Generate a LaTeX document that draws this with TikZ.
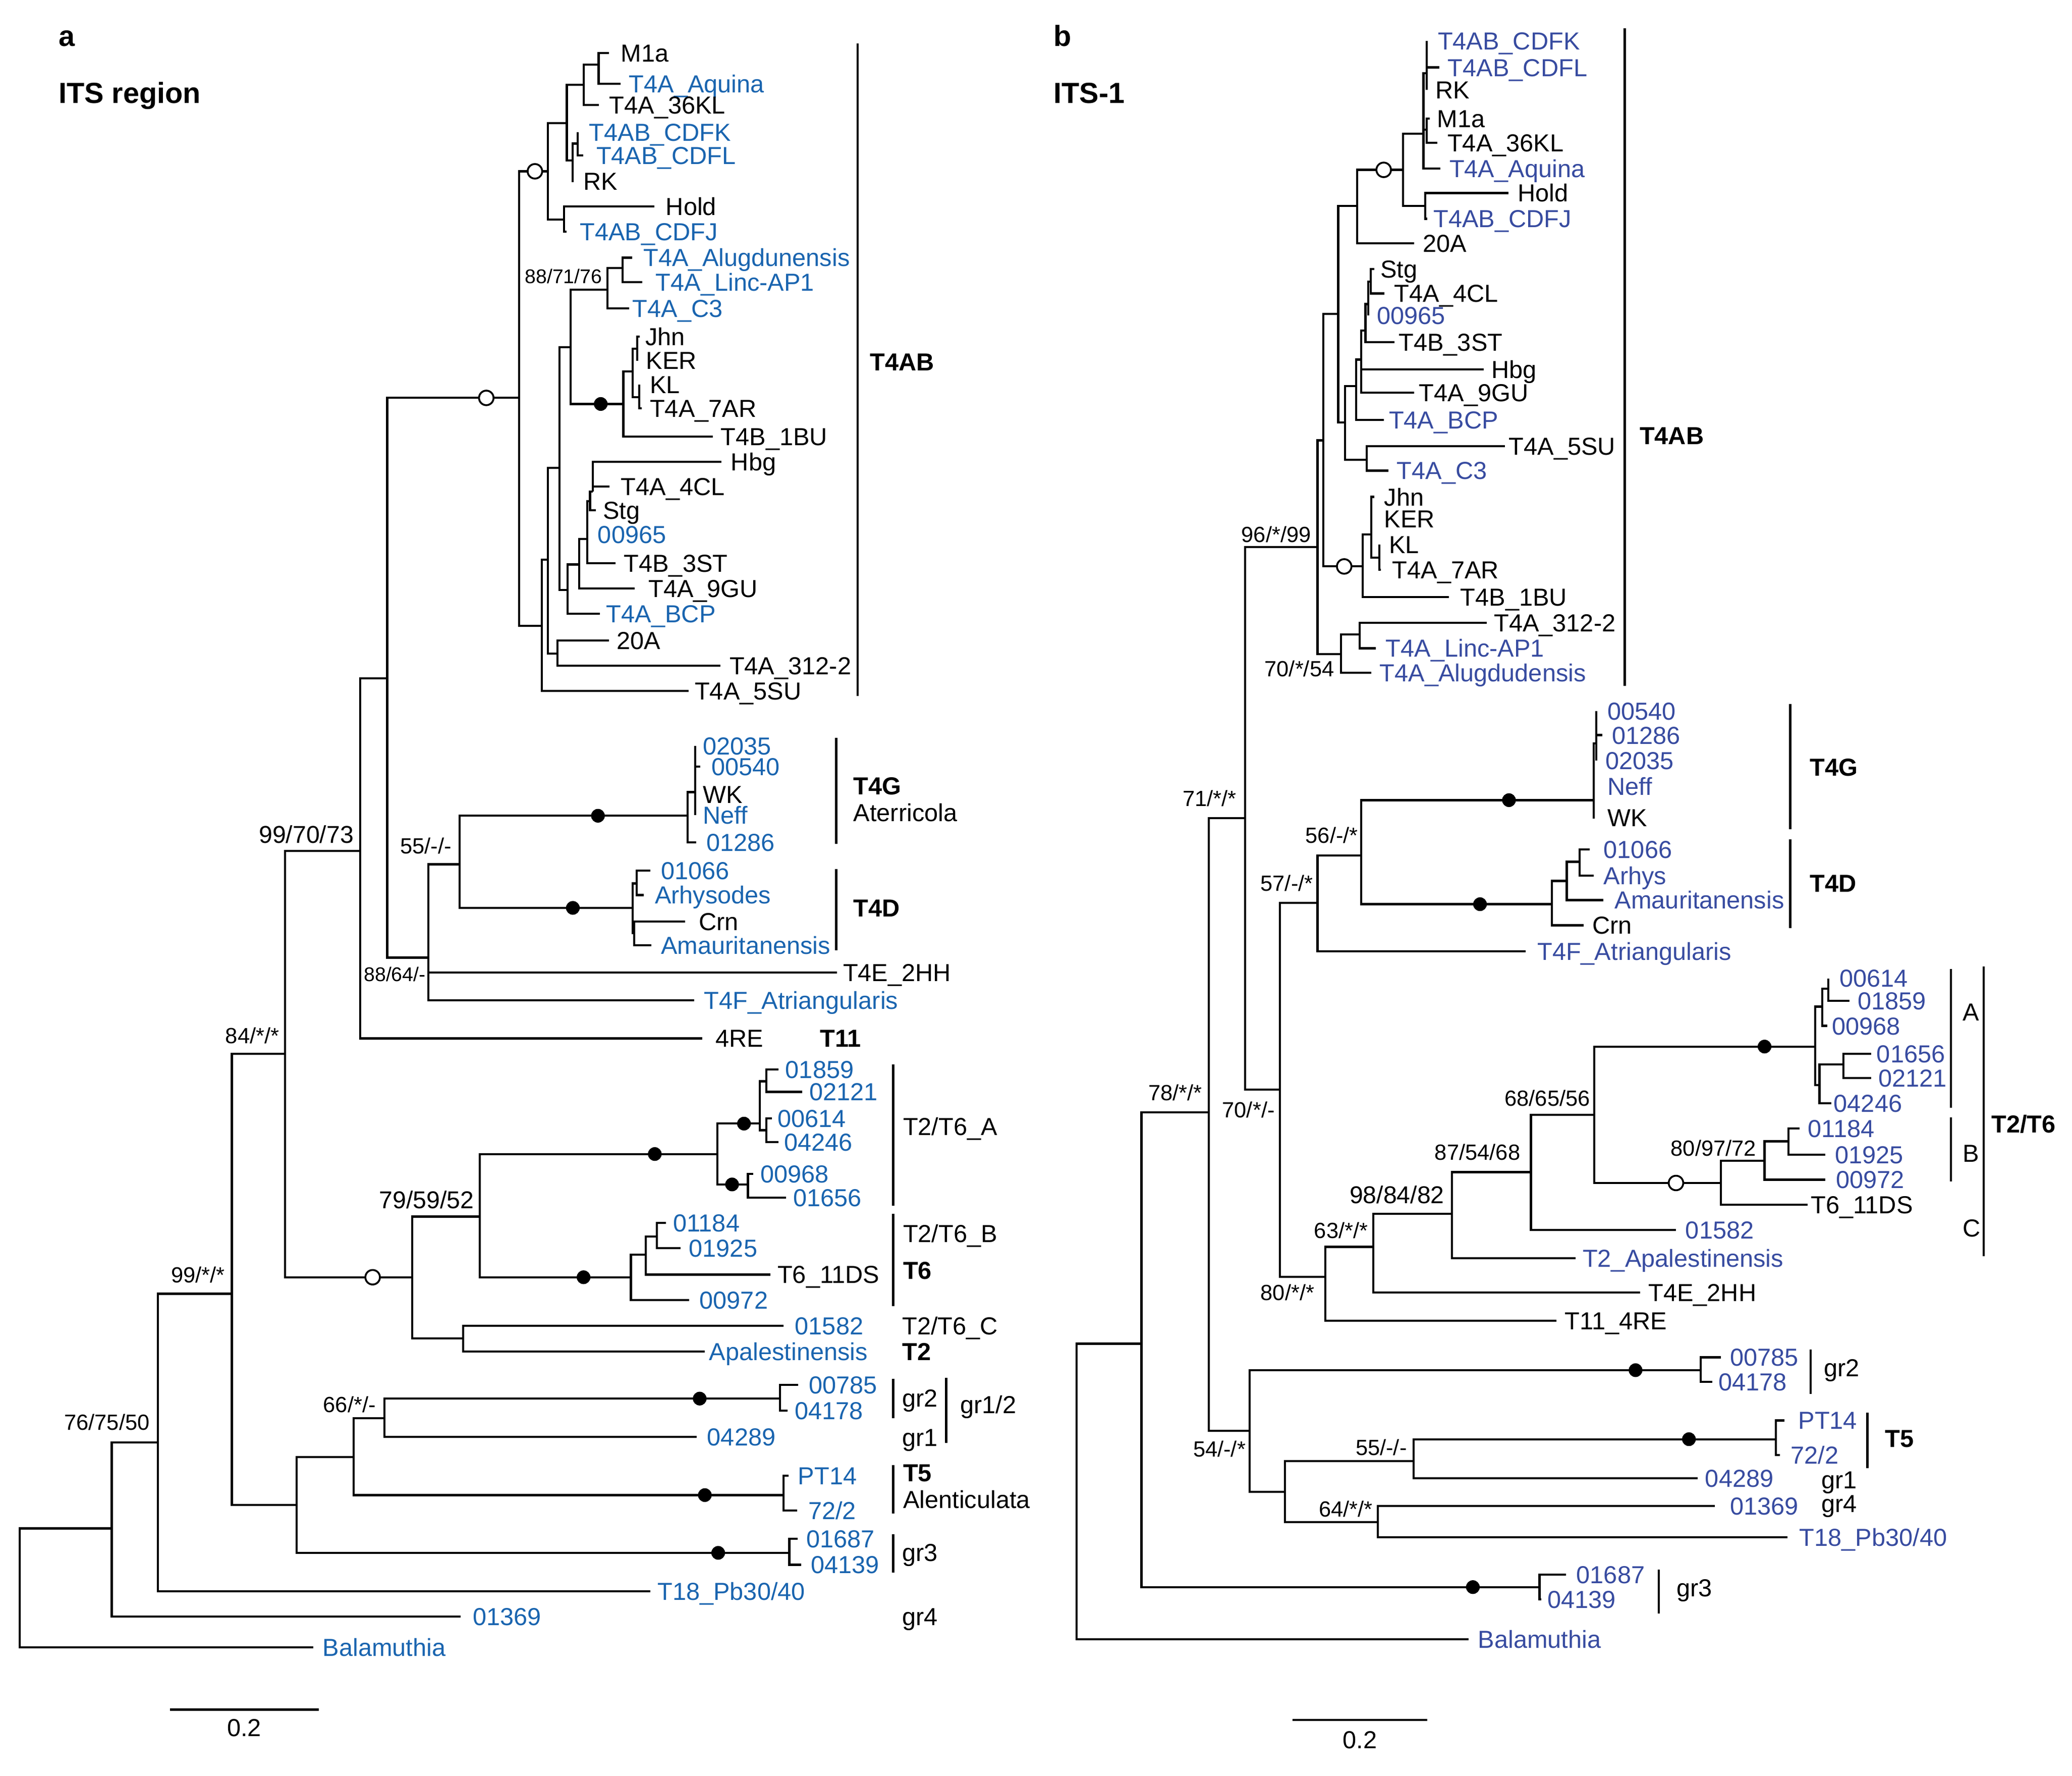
\documentclass[tikz,border=0pt]{standalone}
\usepackage{fontspec}
\setmainfont{Liberation Sans}
\definecolor{lb}{RGB}{25,100,175}
\definecolor{rb}{RGB}{55,75,160}
\newcommand{\Lf}[6]{\coordinate (#1) at (#2,#3);\node[#6] (#1t) at (#4,#3) {#5};}
\newcommand{\Ed}[2]{\foreach \cc in {#2}{\draw[br] (#1) |- (\cc);}}
\newcommand{\Vbar}[4]{\coordinate (#1a) at (#2,#3);\coordinate (#1b) at (#2,#4);\draw[barl] (#1a) -- (#1b);}
\newcommand{\Fd}[3]{\node[fdot] (#1) at (#2,#3) {};}
\newcommand{\Od}[3]{\node[odot] (#1) at (#2,#3) {};}
\tikzset{
 br/.style={line width=0.8pt},
 barl/.style={line width=0.9pt},
 lab/.style={anchor=west, inner sep=0pt, text height=6.66pt, text depth=0pt, font=\fontsize{9.3}{11}\selectfont},
 blA/.style={lab, text=lb},
 blB/.style={lab, text=rb},
 grp/.style={lab, font=\bfseries\fontsize{9.3}{11}\selectfont},
 bsS/.style={anchor=east, inner sep=0pt, text height=5.37pt, text depth=0pt, font=\fontsize{7.5}{9}\selectfont},
 bsM/.style={anchor=east, inner sep=0pt, text height=5.94pt, text depth=0pt, font=\fontsize{8.3}{10}\selectfont},
 bsL/.style={anchor=east, inner sep=0pt, text height=6.59pt, text depth=0pt, font=\fontsize{9.2}{11}\selectfont},
 fdot/.style={circle, fill=black, inner sep=0pt, minimum size=5.2pt},
 odot/.style={circle, draw=black, fill=white, line width=0.7pt, inner sep=0pt, minimum size=5.5pt},
 ttl/.style={anchor=west, inner sep=0pt, text height=7.9pt, text depth=0pt, font=\bfseries\fontsize{11}{13}\selectfont},
 scl/.style={inner sep=0pt, text height=6.66pt, text depth=0pt, font=\fontsize{9.3}{11}\selectfont}
}
\begin{document}
\begin{tikzpicture}[x=0.5pt,y=-0.5pt]
\useasboundingbox (0,0) rectangle (1568,1343.2);
% ================= TREE A =================
\node[ttl] (tA1) at (44,27) {a};
\node[ttl] (tA2) at (44,70) {ITS region};
\coordinate (rA) at (15,1200);
\coordinate (nA1) at (84.6,1156.2);
\coordinate (nA2) at (119.4,1091);
\coordinate (nA3) at (175.4,978.7);
\coordinate (nA4) at (215.6,797.2);
\coordinate (nAB) at (224.4,1138.5);
\coordinate (nA5) at (272.5,643.8);
\coordinate (nT2) at (312,966.2);
\coordinate (nA6) at (293,513);
\coordinate (nA7) at (392.8,301);
\coordinate (nA8) at (324.2,724.4);
\coordinate (nA9) at (347.7,653.8);
\coordinate (nG) at (520.5,617.1);
\coordinate (nG2) at (526.2,599.2);
\coordinate (nD) at (478.7,686.8);
\coordinate (nD1) at (481.9,668.3);
\coordinate (nD2) at (480,706);
\coordinate (nCi) at (414.7,129.6);
\coordinate (nV3) at (428.9,93.1);
\coordinate (nV2) at (441.6,64.2);
\coordinate (nV1) at (453,48.9);
\coordinate (nGa) at (433.3,121.4);
\coordinate (nGb) at (437,108.6);
\coordinate (nHo) at (426.7,166.1);
\coordinate (nA10) at (409.9,473.5);
\coordinate (nA11) at (414.7,423.3);
\coordinate (nA12) at (423.4,354);
\coordinate (n20A) at (421.9,494.5);
\coordinate (nA13) at (431.8,262.8);
\coordinate (n88) at (459.6,219);
\coordinate (nAL) at (471.2,202.6);
\coordinate (nDt) at (471.7,305.6);
\coordinate (nJK) at (478.7,281);
\coordinate (nJ) at (482.2,263.7);
\coordinate (nK) at (483.7,300.6);
\coordinate (nBCP) at (429.6,446.2);
\coordinate (n9GU) at (438.4,427);
\coordinate (n3ST) at (444.3,407.8);
\coordinate (nStg) at (446.5,379);
\coordinate (nH) at (448.7,372);
\coordinate (nT2a) at (363.2,920.3);
\coordinate (nT2c) at (350.5,1012.4);
\coordinate (nTA) at (543,873);
\coordinate (nTA1) at (575,850);
\coordinate (nP1) at (580,818);
\coordinate (nP2) at (580,855);
\coordinate (nTA2) at (566,896);
\coordinate (nTB) at (477.4,966.2);
\coordinate (nTB1) at (488.7,949.1);
\coordinate (nTB2) at (497.2,935.3);
\coordinate (nAB2) at (267.7,1102.3);
\coordinate (n66) at (290.9,1072.7);
\coordinate (nGr2) at (590.3,1058);
\coordinate (nT5) at (592.8,1131);
\coordinate (nGr3) at (597.3,1174.7);
% leaves A
\Lf{AM1a}{460.7}{40.2}{469.5}{M1a}{lab}
\Lf{AAqu}{469.5}{63.5}{475.6}{T4A\_Aquina}{blA}
\Lf{A36KL}{453}{79.4}{460.7}{T4A\_36KL}{lab}
\Lf{ACDFK}{437}{100}{445.4}{T4AB\_CDFK}{blA}
\Lf{ACDFL}{441.4}{117.7}{450.9}{T4AB\_CDFL}{blA}
\Lf{ARK}{434}{136.9}{441}{RK}{lab}
\Lf{AHold}{495.3}{156}{503.5}{Hold}{lab}
\Lf{ACDFJ}{428.9}{175.2}{438.4}{T4AB\_CDFJ}{blA}
\Lf{AAlu}{478.3}{194.9}{486.6}{T4A\_Alugdunensis}{blA}
\Lf{ALinc}{485.9}{213.5}{495.8}{T4A\_Linc-AP1}{blA}
\Lf{AC3}{476.1}{233.2}{478.3}{T4A\_C3}{blA}
\Lf{AJhn}{484}{254.6}{488.1}{Jhn}{lab}
\Lf{AKER}{482.2}{272.8}{488.6}{KER}{lab}
\Lf{AKL}{483.7}{291}{491.4}{KL}{lab}
\Lf{A7AR}{485.5}{309}{491.4}{T4A\_7AR}{lab}
\Lf{A1BU}{539.6}{330.3}{545.1}{T4B\_1BU}{lab}
\Lf{AHbg}{545.8}{349.4}{552.8}{Hbg}{lab}
\Lf{A4CL}{461.2}{368}{469.5}{T4A\_4CL}{lab}
\Lf{AStg}{450.9}{386}{455.9}{Stg}{lab}
\Lf{A00965}{444.3}{404.5}{452}{00965}{blA}
\Lf{A3ST}{465.8}{426.1}{471.7}{T4B\_3ST}{lab}
\Lf{A9GU}{480.4}{445.2}{490.3}{T4A\_9GU}{lab}
\Lf{ABCP}{454.1}{464.4}{458.5}{T4A\_BCP}{blA}
\Lf{A20A}{460.7}{484.5}{466.2}{20A}{lab}
\Lf{A312}{545.1}{503.6}{551.7}{T4A\_312-2}{lab}
\Lf{A5SU}{521}{522.8}{525.4}{T4A\_5SU}{lab}
\Lf{A02035}{526.2}{564.2}{531.6}{02035}{blA}
\Lf{A00540}{530}{579.8}{538}{00540}{blA}
\Lf{AWK}{526.2}{600.8}{531.6}{WK}{lab}
\Lf{ANeff}{526.2}{616.7}{531.6}{Neff}{blA}
\Lf{A01286}{526.8}{637.2}{534.1}{01286}{blA}
\Lf{A01066}{492}{658.6}{499.9}{01066}{blA}
\Lf{AArh}{487.3}{677.1}{495.2}{Arhysodes}{blA}
\Lf{ACrn}{518.3}{697.2}{528.4}{Crn}{lab}
\Lf{AAma}{492.7}{715.1}{499.9}{Amauritanensis}{blA}
\Lf{AT4E}{633.5}{735.7}{637.6}{T4E\_2HH}{lab}
\Lf{AT4F}{525.3}{756.7}{532.5}{T4F\_Atriangularis}{blA}
\Lf{A4RE}{531.6}{785.5}{541}{4RE}{lab}
\Lf{A01859}{589}{809}{594}{01859}{blA}
\Lf{A02121}{607}{826}{612}{02121}{blA}
\Lf{A00614}{584}{846}{588}{00614}{blA}
\Lf{A04246}{589}{864}{593}{04246}{blA}
\Lf{A00968}{570}{888}{575}{00968}{blA}
\Lf{A01656}{595}{906}{600}{01656}{blA}
\Lf{A01184}{504}{925}{509}{01184}{blA}
\Lf{A01925}{515}{944.3}{521}{01925}{blA}
\Lf{AT6}{583}{964.2}{588}{T6\_11DS}{lab}
\Lf{A00972}{521.7}{983.5}{529}{00972}{blA}
\Lf{A01582}{592.8}{1003}{601.2}{01582}{blA}
\Lf{AApa}{533.4}{1022.5}{536.3}{Apalestinensis}{blA}
\Lf{A00785}{603.9}{1047.6}{611.7}{00785}{blA}
\Lf{A04178}{595.8}{1067.2}{601}{04178}{blA}
\Lf{A04289}{527.2}{1087}{534.8}{04289}{blA}
\Lf{APT14}{596.7}{1116.3}{603.5}{PT14}{blA}
\Lf{A722}{603.1}{1142.7}{611.3}{72/2}{blA}
\Lf{A01687}{603.5}{1164}{609.8}{01687}{blA}
\Lf{A04139}{606.4}{1183.7}{613.3}{04139}{blA}
\Lf{AT18}{492.1}{1203.7}{497.2}{T18\_Pb30/40}{blA}
\Lf{A01369}{348.5}{1223}{357.4}{01369}{blA}
\Lf{ABal}{237}{1246.1}{243.8}{Balamuthia}{blA}
% edges A
\Ed{rA}{nA1,ABal}
\Ed{nA1}{nA2,A01369}
\Ed{nA2}{nA3,AT18}
\Ed{nA3}{nA4,nAB}
\Ed{nA4}{nA5,nT2}
\Ed{nA5}{nA6,A4RE}
\Ed{nA6}{nA7,nA8}
\Ed{nA8}{nA9,AT4E,AT4F}
\Ed{nA9}{nG,nD}
\Ed{nG}{nG2,A01286}
\Ed{nG2}{A02035,A00540,AWK,ANeff}
\Ed{nD}{nD1,nD2}
\Ed{nD1}{A01066,AArh}
\Ed{nD2}{ACrn,AAma}
\Ed{nA7}{nCi,nA10}
\Ed{nCi}{nV3,nHo}
\Ed{nV3}{nV2,nGa}
\Ed{nV2}{nV1,A36KL}
\Ed{nV1}{AM1a,AAqu}
\Ed{nGa}{nGb,ARK}
\Ed{nGb}{ACDFK,ACDFL}
\Ed{nHo}{AHold,ACDFJ}
\Ed{nA10}{nA11,A5SU}
\Ed{nA11}{nA12,n20A}
\Ed{n20A}{A20A,A312}
\Ed{nA12}{nA13,nBCP}
\Ed{nA13}{n88,nDt}
\Ed{n88}{nAL,AC3}
\Ed{nAL}{AAlu,ALinc}
\Ed{nDt}{nJK,A1BU}
\Ed{nJK}{nJ,nK}
\Ed{nJ}{AJhn,AKER}
\Ed{nK}{AKL,A7AR}
\Ed{nBCP}{n9GU,ABCP}
\Ed{n9GU}{n3ST,A9GU}
\Ed{n3ST}{nStg,A00965,A3ST}
\Ed{nStg}{nH,AStg}
\Ed{nH}{AHbg,A4CL}
\Ed{nT2}{nT2a,nT2c}
\Ed{nT2a}{nTA,nTB}
\Ed{nTA}{nTA1,nTA2}
\Ed{nTA1}{nP1,nP2}
\Ed{nP1}{A01859,A02121}
\Ed{nP2}{A00614,A04246}
\Ed{nTA2}{A00968,A01656}
\Ed{nTB}{nTB1,A00972}
\Ed{nTB1}{nTB2,AT6}
\Ed{nTB2}{A01184,A01925}
\Ed{nT2c}{A01582,AApa}
\Ed{nAB}{nAB2,nGr3}
\Ed{nAB2}{n66,nT5}
\Ed{n66}{nGr2,A04289}
\Ed{nGr2}{A00785,A04178}
\Ed{nT5}{APT14,A722}
\Ed{nGr3}{A01687,A04139}
% dots A
\Fd{dA1}{454.6}{305.6}
\Fd{dA2}{452.5}{617.1}
\Fd{dA3}{433.5}{686.8}
\Fd{dA4}{495.5}{873}
\Fd{dA5}{563}{850}
\Fd{dA6}{554}{896}
\Fd{dA7}{441.6}{966.2}
\Fd{dA8}{529.5}{1058}
\Fd{dA9}{533.4}{1131}
\Fd{dA10}{543.5}{1174.7}
\Od{oA1}{404.8}{129.6}
\Od{oA2}{368}{301}
\Od{oA3}{282}{966.2}
% support values A
\node[bsS] (sA1) at (456,209) {88/71/76};
\node[bsL] (sA2) at (268,631) {99/70/73};
\node[bsM] (sA3) at (342,640) {55/-/-};
\node[bsS] (sA4) at (322.5,737) {88/64/-};
\node[bsM] (sA5) at (211.6,783.4) {84/*/*};
\node[bsL] (sA6) at (359,907.4) {79/59/52};
\node[bsM] (sA7) at (170.5,964.5) {99/*/*};
\node[bsM] (sA8) at (113.6,1076) {76/75/50};
\node[bsM] (sA9) at (284.7,1062.5) {66/*/-};
% brackets A
\Vbar{bA1}{649}{33}{526.5}
\Vbar{bA2}{632.9}{558.3}{638.2}
\Vbar{bA3}{632.9}{657.6}{719}
\Vbar{bA4}{676}{805}{912}
\Vbar{bA5}{676}{918}{988}
\Vbar{bA6}{676}{1043}{1072.8}
\Vbar{bA7}{716.1}{1042.1}{1091.6}
\Vbar{bA8}{676}{1108.3}{1145}
\Vbar{bA9}{676}{1160.6}{1189.6}
\node[grp] (gA1) at (658,273.8) {T4AB};
\node[grp] (gA2) at (645.5,594.4) {T4G};
\node[lab] (gA3) at (645.5,614.8) {Aterricola};
\node[grp] (gA4) at (645.5,686.8) {T4D};
\node[grp] (gA5) at (620.2,785.2) {T11};
\node[lab] (gA6) at (683,852) {T2/T6\_A};
\node[lab] (gA7) at (683,933) {T2/T6\_B};
\node[grp] (gA8) at (683,961) {T6};
\node[lab] (gA9) at (682.4,1003) {T2/T6\_C};
\node[grp] (gA10) at (682.4,1022.5) {T2};
\node[lab] (gA11) at (682.4,1057.5) {gr2};
\node[lab] (gA12) at (682.4,1087.3) {gr1};
\node[lab] (gA13) at (726.3,1062.6) {gr1/2};
\node[grp] (gA14) at (683,1114) {T5};
\node[lab] (gA15) at (683,1134.2) {Alenticulata};
\node[lab] (gA16) at (682.4,1174.3) {gr3};
\node[lab] (gA17) at (682.4,1222.9) {gr4};
% scale A
\coordinate (sbA1) at (128.6,1293.3);
\coordinate (sbA2) at (241.4,1293.3);
\draw[br] (sbA1) -- (sbA2);
\node[scl] (sbAt) at (184.8,1307) {0.2};
% ================= TREE B =================
\node[ttl] (tB1) at (797,27) {b};
\node[ttl] (tB2) at (797,70) {ITS-1};
\coordinate (rB) at (814.7,1128);
\coordinate (nB1) at (863.8,1016.5);
\coordinate (nB78) at (914.7,841.3);
\coordinate (nB71) at (942.3,619);
\coordinate (nB96) at (997,413.9);
\coordinate (nBt) at (1001.3,333.1);
\coordinate (nB2) at (1012.7,237.5);
\coordinate (nB3) at (1027,155.8);
\coordinate (nBc) at (1061.8,128.5);
\coordinate (nBp) at (1077.2,101.2);
\coordinate (nBk) at (1079.6,55.5);
\coordinate (nBm) at (1079.6,98);
\coordinate (nBH) at (1078.5,155.8);
\coordinate (nB4) at (1017.9,319.5);
\coordinate (nBC3) at (1034.1,347.7);
\coordinate (nB5) at (1026.3,292);
\coordinate (nB6) at (1030.2,272);
\coordinate (nB7) at (1033.3,250);
\coordinate (nB8) at (1035.5,230);
\coordinate (nB9) at (1037.3,213);
\coordinate (nBJ) at (1031.3,428.5);
\coordinate (nBX) at (1037.7,404.2);
\coordinate (nBKL) at (1043.7,422);
\coordinate (nB70s) at (1014.7,494.7);
\coordinate (nB312) at (1028.8,480);
\coordinate (nB70) at (968.5,824.4);
\coordinate (nB57) at (997,683);
\coordinate (nB56) at (1030,647);
\coordinate (nBG) at (1205.9,605.3);
\coordinate (nBG2) at (1208.1,562.4);
\coordinate (nBD) at (1174.3,684);
\coordinate (nBD1) at (1185.6,666.4);
\coordinate (nBD2) at (1195.4,651.9);
\coordinate (nB80) at (1002.9,966);
\coordinate (nB63) at (1039.1,943.2);
\coordinate (nB98) at (1098.8,918.3);
\coordinate (nB87) at (1158.5,886.7);
\coordinate (nB68) at (1206.4,843.3);
\coordinate (nBA) at (1373.7,791.7);
\coordinate (nBA1) at (1379.1,761.5);
\coordinate (nBA1p) at (1383.7,747.9);
\coordinate (nBA2) at (1376.9,820.9);
\coordinate (nBA2p) at (1395,805.3);
\coordinate (nBB) at (1302.3,894.9);
\coordinate (nBB0) at (1335.3,878);
\coordinate (nBB1) at (1353.4,863.4);
\coordinate (nB54) at (945.8,1082.3);
\coordinate (nBgr2) at (1286.9,1036.5);
\coordinate (nB54b) at (972.5,1128.4);
\coordinate (nB55) at (1069.9,1105.2);
\coordinate (nBT5) at (1343.8,1088.7);
\coordinate (nB64) at (1042.7,1151.4);
\coordinate (nBgr3) at (1165,1200.6);
% leaves B
\Lf{BCDFK}{1079.6}{31}{1087.7}{T4AB\_CDFK}{blB}
\Lf{BCDFL}{1089.2}{51}{1095.3}{T4AB\_CDFL}{blB}
\Lf{BRK}{1079.6}{68}{1085.9}{RK}{lab}
\Lf{BM1a}{1082}{89.6}{1087.2}{M1a}{lab}
\Lf{B36KL}{1087.7}{108}{1095}{T4A\_36KL}{lab}
\Lf{BAqu}{1089.9}{127.5}{1096.5}{T4A\_Aquina}{blB}
\Lf{BHold}{1141.4}{146}{1148}{Hold}{lab}
\Lf{BCDFJ}{1080}{165.5}{1084.4}{T4AB\_CDFJ}{blB}
\Lf{B20A}{1070.1}{184}{1076.3}{20A}{lab}
\Lf{BStg}{1040}{203.5}{1044.3}{Stg}{lab}
\Lf{B4CL}{1047.8}{222}{1054.8}{T4A\_4CL}{lab}
\Lf{B00965}{1035.5}{238.5}{1041.7}{00965}{blB}
\Lf{B3ST}{1055.2}{259}{1058.1}{T4B\_3ST}{lab}
\Lf{BHbg}{1122.8}{279.4}{1128.2}{Hbg}{lab}
\Lf{B9GU}{1070.2}{297.1}{1073.5}{T4A\_9GU}{lab}
\Lf{BBCP}{1047.2}{317.6}{1050.7}{T4A\_BCP}{blB}
\Lf{B5SU}{1139}{337.4}{1141.5}{T4A\_5SU}{lab}
\Lf{BC3}{1050.7}{356}{1056.7}{T4A\_C3}{blB}
\Lf{BJhn}{1040}{375.9}{1047.2}{Jhn}{lab}
\Lf{BKER}{1037.7}{392.5}{1047.2}{KER}{lab}
\Lf{BKL}{1043.7}{412}{1050.7}{KL}{lab}
\Lf{B7AR}{1045}{431}{1053.2}{T4A\_7AR}{lab}
\Lf{B1BU}{1096.6}{451.5}{1104.8}{T4B\_1BU}{lab}
\Lf{B312}{1125}{471}{1130.2}{T4A\_312-2}{lab}
\Lf{BLinc}{1041.2}{490.4}{1048.3}{T4A\_Linc-AP1}{blB}
\Lf{BAlu}{1037.7}{508.9}{1043.7}{T4A\_Alugdudensis}{blB}
\Lf{B00540}{1208.1}{538}{1216}{00540}{blB}
\Lf{B01286}{1212.4}{556.1}{1219.4}{01286}{blB}
\Lf{B02035}{1208.1}{575.2}{1214.6}{02035}{blB}
\Lf{BNeff}{1205.9}{594.8}{1216}{Neff}{blB}
\Lf{BWK}{1207}{618.5}{1216}{WK}{lab}
\Lf{B01066}{1203}{642.5}{1213.2}{01066}{blB}
\Lf{BArh}{1205.9}{662.5}{1213.2}{Arhys}{blB}
\Lf{BAma}{1213.2}{680.9}{1221.6}{Amauritanensis}{blB}
\Lf{BCrn}{1198.3}{700}{1204.7}{Crn}{lab}
\Lf{BT4F}{1154.6}{719.8}{1163}{T4F\_Atriangularis}{blB}
\Lf{B00614}{1383.7}{740.1}{1391.8}{00614}{blB}
\Lf{B01859}{1399.5}{757}{1405.4}{01859}{blB}
\Lf{B00968}{1383}{776}{1385.9}{00968}{blB}
\Lf{B01656}{1416.2}{797.2}{1419.8}{01656}{blB}
\Lf{B02121}{1416.2}{815.5}{1421.2}{02121}{blB}
\Lf{B04246}{1385.9}{834.5}{1387.3}{04246}{blB}
\Lf{B01184}{1361.9}{853.6}{1367.8}{01184}{blB}
\Lf{B01925}{1381.4}{873.5}{1388.2}{01925}{blB}
\Lf{B00972}{1381.4}{892.4}{1389}{00972}{blB}
\Lf{BT6}{1367.8}{911.4}{1370}{T6\_11DS}{lab}
\Lf{B01582}{1268.3}{930.3}{1275.1}{01582}{blB}
\Lf{BApa}{1192.4}{951.7}{1197.3}{T2\_Apalestinensis}{blB}
\Lf{BT4E}{1241.2}{977.6}{1247}{T4E\_2HH}{lab}
\Lf{BT11}{1177.9}{999.1}{1183.8}{T11\_4RE}{lab}
\Lf{B00785}{1302.2}{1026.8}{1308.8}{00785}{blB}
\Lf{B04178}{1295.6}{1045.3}{1300}{04178}{blB}
\Lf{BPT14}{1350.4}{1074.5}{1360.5}{PT14}{blB}
\Lf{B722}{1347}{1100.8}{1354.8}{72/2}{blB}
\Lf{B04289}{1284.7}{1118.3}{1290}{04289}{blB}
\Lf{B01369}{1297.8}{1139.1}{1308.8}{01369}{blB}
\Lf{BT18}{1352.6}{1163}{1361.4}{T18\_Pb30/40}{blB}
\Lf{B01687}{1185.2}{1191.3}{1192.6}{01687}{blB}
\Lf{B04139}{1166.3}{1209.8}{1170.7}{04139}{blB}
\Lf{BBal}{1111.5}{1240}{1118.1}{Balamuthia}{blB}
% edges B
\Ed{rB}{nB1,BBal}
\Ed{nB1}{nB78,nBgr3}
\Ed{nB78}{nB71,nB54}
\Ed{nB71}{nB96,nB70}
\Ed{nB96}{nBt,nB70s}
\Ed{nBt}{nB2,nBJ}
\Ed{nB2}{nB3,nB4}
\Ed{nB3}{nBc,B20A}
\Ed{nBc}{nBp,nBH}
\Ed{nBp}{nBk,nBm,BAqu}
\Ed{nBk}{BCDFK,BCDFL,BRK}
\Ed{nBm}{BM1a,B36KL}
\Ed{nBH}{BHold,BCDFJ}
\Ed{nB4}{nB5,nBC3}
\Ed{nBC3}{B5SU,BC3}
\Ed{nB5}{nB6,BBCP}
\Ed{nB6}{nB7,BHbg,B9GU}
\Ed{nB7}{nB8,B3ST}
\Ed{nB8}{nB9,B00965}
\Ed{nB9}{BStg,B4CL}
\Ed{nBJ}{nBX,B1BU}
\Ed{nBX}{BJhn,BKER,nBKL}
\Ed{nBKL}{BKL,B7AR}
\Ed{nB70s}{nB312,BAlu}
\Ed{nB312}{B312,BLinc}
\Ed{nB70}{nB57,nB80}
\Ed{nB57}{nB56,BT4F}
\Ed{nB56}{nBG,nBD}
\Ed{nBG}{nBG2,BNeff,BWK}
\Ed{nBG2}{B00540,B01286,B02035}
\Ed{nBD}{nBD1,BCrn}
\Ed{nBD1}{nBD2,BAma}
\Ed{nBD2}{B01066,BArh}
\Ed{nB80}{nB63,BT11}
\Ed{nB63}{nB98,BT4E}
\Ed{nB98}{nB87,BApa}
\Ed{nB87}{nB68,B01582}
\Ed{nB68}{nBA,nBB}
\Ed{nBA}{nBA1,nBA2}
\Ed{nBA1}{nBA1p,B00968}
\Ed{nBA1p}{B00614,B01859}
\Ed{nBA2}{nBA2p,B04246}
\Ed{nBA2p}{B01656,B02121}
\Ed{nBB}{nBB0,BT6}
\Ed{nBB0}{nBB1,B00972}
\Ed{nBB1}{B01184,B01925}
\Ed{nB54}{nBgr2,nB54b}
\Ed{nBgr2}{B00785,B04178}
\Ed{nB54b}{nB55,nB64}
\Ed{nB55}{nBT5,B04289}
\Ed{nBT5}{BPT14,B722}
\Ed{nB64}{B01369,BT18}
\Ed{nBgr3}{B01687,B04139}
% dots B
\Fd{dB1}{1114.6}{1200.6}
\Fd{dB2}{1141.9}{605.3}
\Fd{dB3}{1120}{684}
\Fd{dB4}{1335.3}{791.7}
\Fd{dB5}{1237.7}{1036.5}
\Fd{dB6}{1278.1}{1088.7}
\Od{oB1}{1047.1}{128.5}
\Od{oB2}{1017.2}{428.5}
\Od{oB3}{1268.3}{894.9}
% support values B
\node[bsM] (sB1) at (992.5,404.2) {96/*/99};
\node[bsM] (sB2) at (1010,506) {70/*/54};
\node[bsM] (sB3) at (936,604) {71/*/*};
\node[bsM] (sB4) at (1028,632) {56/-/*};
\node[bsM] (sB5) at (994,668) {57/-/*};
\node[bsM] (sB6) at (910,826.7) {78/*/*};
\node[bsM] (sB7) at (965,839.4) {70/*/-};
\node[bsM] (sB8) at (1203.7,830.6) {68/65/56};
\node[bsM] (sB9) at (1150.8,871.5) {87/54/68};
\node[bsM] (sB10) at (1329.4,868.6) {80/97/72};
\node[bsL] (sB11) at (1093.3,903.7) {98/84/82};
\node[bsM] (sB12) at (1035.5,930.9) {63/*/*};
\node[bsM] (sB13) at (995,977.6) {80/*/*};
\node[bsM] (sB14) at (943,1095.9) {54/-/*};
\node[bsM] (sB15) at (1065,1095) {55/-/-};
\node[bsM] (sB16) at (1039,1141.6) {64/*/*};
% brackets B
\Vbar{bB1}{1229.5}{21.4}{519}
\Vbar{bB2}{1354.7}{532.6}{627.2}
\Vbar{bB3}{1354.7}{634.9}{702.2}
\Vbar{bB4}{1476.4}{732.9}{838}
\Vbar{bB5}{1476.4}{845.2}{893.9}
\Vbar{bB6}{1501.2}{731.3}{950.4}
\Vbar{bB7}{1370.2}{1021}{1054.6}
\Vbar{bB8}{1413.1}{1068.6}{1110.5}
\Vbar{bB9}{1255.3}{1187.4}{1220.5}
\node[grp] (gB1) at (1240.4,329.6) {T4AB};
\node[grp] (gB2) at (1369.3,580.3) {T4G};
\node[grp] (gB3) at (1369.3,668.1) {T4D};
\node[lab] (gB4) at (1485,765.4) {A};
\node[lab] (gB5) at (1485,872.5) {B};
\node[lab] (gB6) at (1485,929) {C};
\node[grp] (gB7) at (1506.7,850.1) {T2/T6};
\node[lab] (gB8) at (1379.8,1034.6) {gr2};
\node[grp] (gB9) at (1426.3,1088.1) {T5};
\node[lab] (gB10) at (1378,1119.3) {gr1};
\node[lab] (gB11) at (1378,1137.5) {gr4};
\node[lab] (gB12) at (1268.4,1201) {gr3};
% scale B
\coordinate (sbB1) at (978,1301);
\coordinate (sbB2) at (1080,1301);
\draw[br] (sbB1) -- (sbB2);
\node[scl] (sbBt) at (1029,1316) {0.2};
\end{tikzpicture}
\end{document}
